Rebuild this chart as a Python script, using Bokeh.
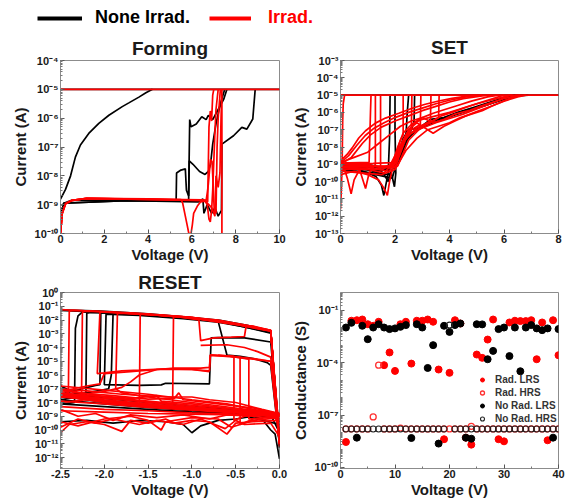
from bokeh.plotting import figure
from bokeh.layouts import column, row
from bokeh.models import (Range1d, FixedTicker, CustomJSTickFormatter,
                          NumeralTickFormatter, Legend, LegendItem)
from bokeh.embed import file_html
from bokeh.resources import INLINE

# ---------------- data: (voltage, log10 current) ----------------
forming_none = [
    [(0, -8.81), (0.23, -8.47), (0.46, -8.0), (0.68, -7.35), (0.91, -6.93), (1.29, -6.53),
     (1.75, -6.18), (2.21, -5.9), (2.82, -5.6), (3.12, -5.47), (3.58, -5.27), (3.9, -5.12), (4.2, -5.0)],
    [(0, -9.4), (0.15, -8.95), (0.5, -8.85), (3, -8.84), (5.28, -8.86), (5.3, -7.9), (5.5, -7.8),
     (5.7, -7.76), (5.75, -8.5), (5.85, -8.7), (5.9, -6.05), (5.96, -6.3), (6.2, -6.2), (6.45, -5.95),
     (6.65, -6.05), (6.75, -5.9), (6.95, -6.05), (7.2, -5.7), (7.45, -5.35), (7.6, -5.0)],
    [(0, -9.4), (0.15, -8.95), (3, -8.86), (5.85, -8.88), (5.88, -7.48), (6.05, -7.6), (6.35, -7.85),
     (6.6, -7.95), (6.75, -7.85), (6.85, -7.6), (6.95, -6.9), (7.1, -6.2), (7.3, -5.5), (7.5, -5.0)],
    [(0, -9.4), (0.15, -8.95), (3, -8.86), (6.3, -8.9), (6.5, -8.8), (6.55, -9.3), (6.7, -9.0),
     (6.9, -9.3), (7.05, -9.1), (7.2, -9.4), (7.35, -9.2), (7.37, -6.9), (7.9, -6.61), (8.28, -6.32),
     (8.51, -6.38), (8.78, -6.03), (8.89, -5.0)],
    [(0, -5), (10, -5)],
]
forming_irrad = [
    [(0, -10), (0.08, -9.3), (0.23, -8.97), (0.53, -8.85), (1.2, -8.78), (4, -8.8), (5.5, -8.82),
     (5.58, -8.95), (5.7, -9.4), (5.8, -9.77), (5.86, -10), (5.96, -10), (6.02, -9.7), (6.08, -9.3),
     (6.25, -9.05), (6.4, -8.9), (6.6, -8.88), (6.7, -9.0), (6.78, -9.5), (6.84, -9.6), (6.9, -9.2),
     (6.95, -8.5), (7.0, -7.5), (7.05, -6.5), (7.1, -5.7), (7.2, -5.0)],
    [(0, -10), (0.08, -9.3), (0.23, -8.97), (0.53, -8.85), (1.2, -8.78), (6.5, -8.83), (6.65, -8.85),
     (6.7, -8.6), (6.75, -8.3), (6.85, -7.43), (6.92, -7.5), (6.97, -8.3), (7.02, -9.2), (7.1, -9.3),
     (7.15, -7.0), (7.2, -6.0), (7.27, -5.3), (7.3, -5.0)],
    [(0, -10), (0.08, -9.3), (0.23, -8.97), (0.53, -8.85), (1.2, -8.78), (6.55, -8.85), (6.72, -8.9),
     (6.78, -6.3), (6.84, -5.75), (6.9, -6.1), (6.95, -5.2), (7.0, -5.0)],
    [(0, -10), (0.08, -9.3), (0.23, -8.97), (0.53, -8.85), (1.2, -8.78), (6.6, -8.86), (6.9, -9.1),
     (7.05, -9.4), (7.1, -8.0), (7.2, -8.4), (7.28, -7.9), (7.33, -6.0), (7.37, -5.0), (7.37, -10)],
    [(0, -5), (10, -5)],
]

set_none = [
    [(0, -9.0), (0.5, -9.2), (1.0, -9.5), (1.3, -9.7), (1.5, -10.2), (1.59, -10.8), (1.65, -10.3),
     (1.75, -9.5), (1.8, -7.5), (1.82, -5.0)],
    [(0, -9.0), (0.6, -9.1), (1.2, -9.4), (1.6, -9.6), (1.75, -10.0), (1.85, -9.4), (1.98, -10.3),
     (2.03, -9.5), (2.0, -7.0), (2.0, -5.0)],
    [(0, -8.95), (1.0, -9.0), (1.8, -9.3), (2.2, -8.5), (2.4, -7.4), (2.45, -6.0), (2.5, -5.0)],
    [(0, -9.1), (1.5, -9.2), (2.1, -9.0), (2.4, -7.8), (2.6, -7.0), (2.7, -6.5), (2.72, -5.0)],
    [(0, -9.3), (1.0, -9.5), (1.9, -9.8), (2.1, -8.7), (2.4, -7.6), (2.8, -7.0), (3.2, -6.6),
     (3.6, -6.4), (4.0, -6.2), (4.5, -5.95), (5.0, -5.75), (5.5, -5.5), (6.0, -5.25), (6.5, -5.05), (6.9, -5.0)],
    [(0, -9.2), (1.5, -9.4), (2.0, -9.0), (2.3, -7.8), (2.7, -7.1), (3.1, -6.8), (3.6, -6.5),
     (4.2, -6.15), (4.8, -5.85), (5.4, -5.55), (6.0, -5.2), (6.4, -5.0)],
    [(0, -9.3), (1.8, -9.6), (2.0, -9.0), (2.3, -7.5), (2.5, -7.0), (2.9, -6.9), (3.3, -6.4),
     (3.8, -6.3), (4.3, -6.0), (4.9, -5.7), (5.5, -5.4), (6.1, -5.1), (6.5, -5.0)],
    [(0, -5), (8, -5)],
]
set_irrad = [
    [(0, -8.8), (0.24, -8.43), (0.43, -8.05), (0.67, -7.48), (0.92, -7.06), (1.28, -6.62), (1.65, -6.33),
     (2.14, -6.05), (2.63, -5.76), (3.11, -5.53), (3.6, -5.34), (4.09, -5.19), (4.7, -5.04), (5.0, -5.0)],
    [(0, -8.9), (0.3, -8.5), (0.6, -7.9), (0.9, -7.35), (1.2, -6.95), (1.6, -6.6), (2.0, -6.3),
     (2.5, -6.0), (3.0, -5.75), (3.5, -5.5), (4.0, -5.3), (4.6, -5.1), (5.2, -5.0)],
    [(0, -9.0), (0.4, -8.6), (0.8, -7.8), (1.1, -7.3), (1.5, -6.85), (2.0, -6.5), (2.5, -6.2),
     (3.0, -5.9), (3.5, -5.65), (4.0, -5.4), (4.5, -5.2), (5.2, -5.05), (5.5, -5.0)],
    [(0, -8.9), (0.5, -8.6), (1.0, -8.3), (1.4, -7.8), (1.8, -7.3), (2.2, -6.8), (2.6, -6.5),
     (3.0, -6.3), (3.4, -6.05), (3.8, -5.85), (4.3, -5.6), (4.8, -5.35), (5.4, -5.1), (5.8, -5.0)],
    [(0, -9.4), (0.1, -9.0), (0.3, -8.92), (0.7, -8.9), (1.05, -8.9), (1.1, -6.0), (1.12, -5.0)],
    [(0, -9.5), (0.15, -9.3), (0.25, -9.8), (0.39, -10.7), (0.5, -9.9), (0.7, -9.3), (0.92, -10.4),
     (1.05, -9.5), (1.28, -9.0), (1.28, -5.0)],
    [(0, -9.1), (0.2, -8.9), (0.6, -9.0), (1.0, -9.1), (1.3, -9.3), (1.47, -9.2), (1.47, -5.0)],
    [(0, -11.6), (0.03, -10.5), (0.06, -9.0), (0.08, -6.5), (0.1, -5.5), (0.15, -5.0)],
    [(0, -9.6), (0.5, -9.4), (1.0, -9.6), (1.4, -9.9), (1.6, -10.4), (1.72, -10.8), (1.8, -10.0),
     (1.9, -9.3), (2.1, -8.4), (2.3, -7.7), (2.6, -7.2), (3.0, -6.9), (3.5, -6.6), (4.0, -6.35),
     (4.5, -6.1), (5.0, -5.8), (5.5, -5.5), (6.0, -5.2), (6.5, -5.0)],
    [(0, -9.2), (0.5, -9.1), (1.0, -9.0), (1.5, -9.2), (1.9, -9.0), (2.1, -8.0), (2.3, -7.2),
     (2.6, -6.7), (3.0, -6.4), (3.5, -6.2), (4.0, -6.0), (4.5, -5.75), (5.0, -5.5), (5.5, -5.3),
     (6.0, -5.1), (6.3, -5.0)],
    [(0, -9.3), (1.0, -9.3), (1.6, -9.5), (1.9, -9.0), (2.2, -7.9), (2.5, -7.3), (2.9, -6.9),
     (3.3, -6.6), (3.7, -6.2), (4.1, -6.0), (4.6, -5.7), (5.1, -5.45), (5.6, -5.2), (6.0, -5.0)],
    [(0, -9.0), (1.2, -9.1), (1.8, -9.2), (2.1, -8.5), (2.4, -7.4), (2.7, -6.6), (3.0, -6.3),
     (3.4, -6.6), (3.8, -6.4), (4.2, -6.1), (4.7, -5.9), (5.2, -5.6), (5.8, -5.3), (6.2, -5.0)],
    [(0, -9.2), (1.8, -9.1), (2.2, -7.9), (2.5, -7.0), (2.8, -6.6), (3.1, -6.9), (3.4, -7.2),
     (3.8, -6.8), (4.2, -6.5), (4.6, -6.2), (5.0, -5.95), (5.6, -5.6), (6.2, -5.2), (6.6, -5.0)],
    [(0, -9.3), (1.0, -9.2), (1.8, -9.4), (2.0, -8.6), (2.2, -7.6), (2.3, -7.3), (2.3, -5.0)],
    [(0, -9.0), (1.2, -8.95), (1.9, -8.9), (2.2, -8.0), (2.45, -7.2), (2.6, -6.9), (2.62, -5.0)],
    [(0, -9.2), (1.5, -9.3), (2.0, -9.0), (2.3, -7.8), (2.6, -7.0), (2.93, -6.7), (2.95, -5.0)],
    [(0, -9.0), (2.0, -9.2), (2.4, -7.5), (2.8, -6.9), (3.3, -6.5), (3.32, -5.0)],
    [(0, -9.1), (2.1, -9.1), (2.5, -7.6), (3.0, -6.8), (3.6, -6.3), (3.62, -5.0)],
    [(0, -9.4), (1.5, -9.6), (2.0, -9.3), (2.4, -8.2), (2.8, -7.5), (3.2, -7.0), (3.6, -6.8),
     (4.0, -6.6), (4.4, -6.3), (4.8, -6.1), (5.2, -5.9), (5.6, -5.6), (6.0, -5.35), (6.5, -5.1), (6.8, -5.0)],
    [(0, -5), (8, -5)],
]

reset_none = [
    [(0, -11.3), (-0.1, -2.8), (-0.37, -2.38), (-0.68, -2.03), (-1.06, -1.79), (-1.5, -1.56),
     (-2.04, -1.36), (-2.5, -1.27), (-2.5, -6.8), (-2.3, -7.4), (-2.0, -7.7), (-1.5, -8.0),
     (-1.0, -8.3), (-0.5, -8.55), (-0.1, -8.8), (0, -9.4)],
    [(0, -11.0), (-0.1, -2.9), (-0.37, -2.45), (-0.68, -2.1), (-1.06, -1.85), (-1.5, -1.62),
     (-2.0, -1.47), (-2.25, -1.42), (-2.3, -1.7), (-2.33, -2.6), (-2.34, -8.0), (-2.5, -8.1),
     (-2.0, -8.3), (-1.5, -8.5), (-1.0, -8.7), (-0.5, -8.85), (-0.1, -8.9), (0, -10.2)],
    [(0, -10.8), (-0.1, -2.85), (-0.4, -2.45), (-0.7, -2.08), (-1.1, -1.82), (-1.6, -1.6),
     (-2.15, -1.45), (-2.2, -1.5), (-2.21, -7.5), (-2.5, -7.8), (-2.0, -8.1), (-1.5, -8.35),
     (-1.0, -8.6), (-0.5, -8.8), (0, -9.6)],
    [(0, -11.2), (-0.1, -2.8), (-0.4, -2.4), (-0.7, -2.05), (-1.1, -1.8), (-1.6, -1.58),
     (-2.0, -1.45), (-2.04, -1.5), (-2.05, -6.7), (-2.1, -6.75), (-2.5, -7.4), (-2.0, -7.9),
     (-1.5, -8.2), (-1.0, -8.5), (-0.5, -8.7), (0, -9.2)],
    [(0, -10.5), (-0.1, -2.9), (-0.4, -2.5), (-0.7, -2.1), (-1.1, -1.85), (-1.6, -1.62),
     (-1.9, -1.55), (-1.92, -6.0), (-1.95, -7.0), (-2.2, -7.3), (-2.5, -7.5), (-2.0, -8.0),
     (-1.4, -8.3), (-0.8, -8.6), (0, -9.0)],
    [(0, -11.0), (-0.1, -2.95), (-0.4, -2.5), (-0.7, -2.15), (-1.1, -1.9), (-1.6, -1.66),
     (-1.98, -1.58), (-2.0, -6.7), (-1.6, -6.75), (-1.35, -6.72), (-1.3, -6.6), (-0.8, -6.65),
     (-0.78, -3.3), (-0.7, -3.28), (-0.4, -3.3), (-0.1, -3.6), (0, -11.0)],
    [(-2.5, -1.3), (-1.5, -1.6), (-1.0, -1.85), (-0.7, -2.1), (-0.6, -4.55), (-0.45, -4.65),
     (-0.3, -4.8), (-0.14, -5.1), (-0.1, -5.3), (0, -11.0)],
    [(-2.5, -9.4), (-2.2, -9.3), (-1.9, -9.5), (-1.6, -9.3), (-1.3, -9.4), (-1.1, -9.6), (-1.0, -10.2),
     (-0.9, -9.7), (-0.7, -9.3), (-0.5, -9.2), (-0.3, -9.0), (-0.2, -9.2), (-0.1, -10.0),
     (-0.05, -10.3), (0, -12.1)],
]
reset_irrad = [
    [(0, -11.0), (-0.1, -2.75), (-0.4, -2.35), (-0.7, -2.0), (-1.1, -1.75), (-1.6, -1.52),
     (-2.0, -1.38), (-2.35, -1.3), (-2.4, -1.35), (-2.41, -7.3), (-2.5, -7.0), (-2.0, -7.6),
     (-1.5, -8.0), (-1.0, -8.3), (-0.5, -8.6), (-0.1, -8.8), (0, -9.5)],
    [(0, -10.6), (-0.1, -2.82), (-0.5, -2.33), (-1.0, -1.86), (-1.5, -1.6), (-2.0, -1.42),
     (-2.22, -1.36), (-2.25, -1.45), (-2.26, -7.6), (-2.5, -7.3), (-2.0, -7.8), (-1.5, -8.1),
     (-1.0, -8.4), (-0.5, -8.7), (0, -8.9)],
    [(0, -10.8), (-0.1, -2.8), (-0.4, -2.4), (-0.7, -2.05), (-1.1, -1.78), (-1.6, -1.55),
     (-2.05, -1.42), (-2.08, -5.9), (-2.0, -5.85), (-1.8, -5.7), (-1.6, -5.65), (-1.3, -5.55),
     (-1.0, -5.6), (-0.8, -5.7), (-0.79, -4.55), (-0.5, -4.7), (-0.3, -4.85), (-0.1, -5.0), (0, -11.0)],
    [(0, -11.2), (-0.1, -2.8), (-0.5, -2.3), (-1.0, -1.85), (-1.5, -1.6), (-1.85, -1.5),
     (-1.87, -7.0), (-1.8, -7.3), (-1.5, -7.6), (-1.0, -8.0), (-0.5, -8.4), (0, -8.8)],
    [(-2.5, -7.2), (-2.2, -6.8), (-2.05, -6.65), (-2.0, -5.9), (-1.7, -5.75), (-1.4, -5.6),
     (-1.0, -5.6), (-0.8, -5.75)],
    [(-2.5, -7.6), (-2.0, -7.2), (-1.8, -6.9), (-1.7, -6.5), (-1.6, -6.0), (-1.4, -5.6), (-1.2, -5.5),
     (-0.9, -5.5), (-0.8, -5.45), (-0.79, -4.55), (-0.6, -4.6), (-0.3, -4.8), (-0.1, -5.0), (0, -10.5)],
    [(0, -11.0), (-0.1, -2.75), (-0.3, -2.45), (-0.38, -2.4), (-0.4, -3.2), (-0.55, -3.25),
     (-0.75, -3.3), (-0.9, -3.5), (-0.92, -2.0), (-1.2, -1.72), (-1.6, -1.55), (-2.0, -1.4), (-2.5, -1.25)],
    [(-0.9, -3.85), (-0.6, -3.8), (-0.4, -4.0), (-0.25, -4.3), (-0.1, -4.7), (0, -11.0)],
    [(0, -10.5), (-0.1, -2.75), (-0.5, -2.3), (-1.0, -1.8), (-1.55, -1.58), (-1.59, -1.6),
     (-1.6, -8.2), (-1.8, -8.0), (-2.2, -7.7), (-2.5, -7.5), (-2.0, -8.0), (-1.5, -8.3),
     (-1.0, -8.5), (-0.5, -8.7), (0, -9.0)],
    [(0, -11.0), (-0.1, -2.78), (-0.5, -2.3), (-1.0, -1.83), (-1.2, -1.72), (-1.21, -1.75),
     (-1.22, -8.1), (-1.6, -7.9), (-2.0, -7.7), (-2.5, -7.4), (-2.0, -7.9), (-1.5, -8.2),
     (-1.0, -8.45), (-0.5, -8.7), (0, -8.9)],
    [(-0.79, -4.55), (-0.6, -4.62), (-0.52, -4.65), (-0.52, -9.3), (-0.4, -9.0), (-0.2, -8.9), (0, -9.2)],
    [(-0.7, -4.55), (-0.45, -4.7), (-0.45, -9.6), (-0.3, -9.2), (0, -9.0)],
    [(-0.6, -4.6), (-0.35, -4.85), (-0.35, -9.2), (0, -9.0)],
    [(-2.5, -6.8), (-2.0, -7.1), (-1.5, -7.4), (-1.0, -7.8), (-0.6, -8.1), (-0.3, -8.5), (0, -8.8)],
    [(-2.5, -7.0), (-2.2, -7.15), (-1.8, -7.4), (-1.3, -7.6), (-1.0, -7.6), (-0.8, -7.8),
     (-0.5, -8.0), (-0.2, -8.5), (0, -8.8)],
    [(-2.5, -7.3), (-2.0, -7.6), (-1.5, -7.9), (-1.0, -8.2), (-0.5, -8.5), (0, -8.8)],
    [(-2.5, -7.4), (-2.1, -7.5), (-1.7, -7.7), (-1.4, -7.5), (-1.35, -7.9), (-1.0, -8.1),
     (-0.6, -8.4), (0, -8.85)],
    [(-2.5, -7.6), (-2.0, -7.9), (-1.5, -8.15), (-1.0, -8.4), (-0.5, -8.6), (0, -8.85)],
    [(-2.5, -7.9), (-2.0, -8.1), (-1.5, -8.35), (-1.0, -8.55), (-0.5, -8.75), (0, -8.9)],
    [(-2.5, -8.0), (-2.2, -7.8), (-1.9, -8.0), (-1.6, -8.2), (-1.2, -8.3), (-0.8, -8.5),
     (-0.4, -8.7), (0, -8.9)],
    [(-2.5, -8.3), (-2.0, -8.5), (-1.5, -8.6), (-1.0, -8.75), (-0.5, -8.85), (0, -8.9)],
    [(-2.5, -8.6), (-2.0, -8.7), (-1.5, -8.8), (-1.0, -8.85), (-0.5, -8.9), (0, -8.9)],
    [(-2.5, -7.1), (-2.3, -7.3), (-1.9, -7.5), (-1.5, -7.75), (-1.2, -7.7), (-1.15, -7.3),
     (-1.1, -7.8), (-0.7, -8.1), (-0.3, -8.4), (0, -8.85)],
    [(-2.5, -8.5), (-2.3, -9.0), (-2.1, -8.8), (-1.9, -9.3), (-1.7, -8.9), (-1.4, -9.1), (-1.1, -8.9),
     (-0.8, -9.2), (-0.6, -8.9), (-0.3, -9.0), (0, -8.95)],
    [(-2.5, -10.2), (-2.4, -9.6), (-2.2, -9.4), (-2.0, -9.6), (-1.8, -10.1), (-1.7, -9.3), (-1.5, -9.5),
     (-1.3, -9.2), (-1.2, -9.5), (-1.0, -9.3), (-0.8, -9.4), (-0.6, -10.3), (-0.5, -9.5), (-0.3, -9.4), (0, -9.3)],
    [(-2.5, -9.8), (-2.3, -9.2), (-2.1, -9.5), (-1.9, -9.2), (-1.6, -9.6), (-1.4, -9.3), (-1.1, -9.6),
     (-0.9, -9.2), (-0.62, -9.9), (-0.5, -9.3), (-0.4, -9.6), (-0.1, -9.5), (0, -10.5)],
    [(-2.5, -9.4), (-2.3, -9.7), (-2.0, -9.2), (-1.7, -9.0), (-1.5, -9.3), (-1.35, -10.0), (-1.3, -9.4),
     (-1.0, -9.1), (-0.7, -9.2), (-0.55, -9.8), (-0.3, -9.3), (0, -9.1)],
]

# conductance vs cycle (log10 S)
cycles = list(range(1, 41))
rad_lrs = [-8.55, -1.59, -1.56, -1.52, -1.79, -1.88, -1.65, -4.14, -3.41, -4.47,
           -1.79, -1.65, -4.05, -1.59, -1.59, -1.52, -1.65, -4.39, -8.39, -4.58,
           -1.56, -1.75, -8.30, -8.70, -3.53, -3.72, -2.67, -1.52, -8.39, -8.51,
           -1.69, -1.59, -1.61, -1.61, -1.56, -3.80, -1.69, -8.45, -1.56, -3.57]
rad_hrs = [-7.8, -7.8, -7.8, -7.8, -7.8, -7.11, -4.14, -7.8, -7.8, -7.8,
           -7.75, -7.8, -7.8, -7.8, -7.8, -7.8, -7.8, -7.8, -7.8, -7.8,
           -7.8, -7.8, -7.8, -7.65, -7.8, -7.8, -7.8, -7.8, -7.8, -7.8,
           -7.8, -7.8, -7.8, -7.8, -7.8, -7.8, -7.8, -7.8, -7.8, -7.8]
norad_lrs = [-1.98, -1.71, -8.30, -1.88, -2.65, -1.98, -1.79, -1.98, -2.07, -2.03,
             -1.94, -1.84, -8.32, -1.79, -1.98, -4.30, -2.99, -8.64, -1.88, -2.23,
             -1.84, -1.75, -8.30, -8.36, -1.79, -1.80, -3.80, -3.32, -2.07, -1.98,
             -3.62, -1.98, -4.49, -1.98, -1.84, -2.03, -2.13, -2.03, -8.30, -2.07]
norad_hrs = [-7.8] * 19 + [-1.84] + [-7.8] * 20

forming_xticks = [0, 2, 4, 6, 8, 10]
set_xticks = [0, 2, 4, 6, 8]
reset_xticks = [-2.5, -2.0, -1.5, -1.0, -0.5, 0.0]
cond_xticks = [0, 10, 20, 30, 40]

# ---------------- styling ----------------
AX_FONT = "Liberation Sans"
GRAY = "#8c8c8c"
SUP_JS = """
const s = {"-":"\\u207B","0":"\\u2070","1":"\\u00B9","2":"\\u00B2","3":"\\u00B3","4":"\\u2074",
           "5":"\\u2075","6":"\\u2076","7":"\\u2077","8":"\\u2078","9":"\\u2079"};
const e = Math.round(Math.log10(tick));
return "10" + String(e).split("").map(c => s[c]).join("");
"""


def to_xy(curves):
    xs = [[pt[0] for pt in c] for c in curves]
    ys = [[10.0 ** pt[1] for pt in c] for c in curves]
    return xs, ys


def panel(width, height, xr, ylog, xticks, xminor, yticks, ylabel, borders,
          title=None, title_gap=4, xfmt=None):
    bl, br, bt, bb = borders
    p = figure(width=width, height=height, x_range=Range1d(*xr),
               y_range=Range1d(10.0 ** ylog[0], 10.0 ** ylog[1]), y_axis_type="log",
               output_backend="svg", toolbar_location=None,
               min_border_left=bl, min_border_right=br, min_border_top=bt, min_border_bottom=bb)
    p.grid.visible = False
    p.outline_line_color = GRAY
    p.background_fill_color = "white"
    p.border_fill_color = "white"
    if title:
        p.title.text = title
        p.title.align = "center"
        p.title.text_font = AX_FONT
        p.title.text_font_size = "19px"
        p.title.text_font_style = "bold"
        p.title.text_color = "#1a1a1a"
        p.title.standoff = title_gap
    minor_y = [m * 10.0 ** k for k in range(int(ylog[0]) - 1, int(ylog[1]) + 1) for m in range(1, 10)]
    p.yaxis.ticker = FixedTicker(ticks=[10.0 ** k for k in yticks], minor_ticks=minor_y)
    p.yaxis.formatter = CustomJSTickFormatter(code=SUP_JS)
    p.xaxis.ticker = FixedTicker(ticks=xticks, minor_ticks=xminor)
    if xfmt:
        p.xaxis.formatter = NumeralTickFormatter(format=xfmt)
    for ax in (p.xaxis, p.yaxis):
        ax.axis_line_color = GRAY
        ax.major_tick_line_color = "#555555"
        ax.minor_tick_line_color = "#777777"
        ax.major_tick_in = 4
        ax.major_tick_out = 0
        ax.minor_tick_in = 2
        ax.minor_tick_out = 0
        ax.major_label_text_font = AX_FONT
        ax.major_label_text_font_style = "bold"
        ax.major_label_text_font_size = "11px"
        ax.major_label_text_color = "#1a1a1a"
        ax.axis_label_text_font = AX_FONT
        ax.axis_label_text_font_style = "bold"
        ax.axis_label_text_font_size = "15px"
        ax.axis_label_text_color = "#1a1a1a"
    p.xaxis.major_label_standoff = 1
    p.xaxis.axis_label_standoff = 0
    p.yaxis.major_label_standoff = 2
    p.yaxis.axis_label_standoff = 3
    p.xaxis.axis_label = "Voltage (V)"
    p.yaxis.axis_label = ylabel
    return p


def draw(p, black, red):
    xs, ys = to_xy(black)
    p.multi_line(xs=xs, ys=ys, line_color="black", line_width=1.7)
    xs, ys = to_xy(red)
    p.multi_line(xs=xs, ys=ys, line_color="#ff0000", line_width=1.7)


# ---------------- header legend ----------------
hdr = figure(width=568, height=32, x_range=Range1d(0, 1), y_range=Range1d(0, 1),
             output_backend="svg", toolbar_location=None, min_border=0,
             x_axis_location=None, y_axis_location=None)
hdr.grid.visible = False
hdr.outline_line_color = None
hdr.border_fill_color = "white"
r_none = hdr.line(x=[5, 6], y=[5, 6], line_color="black", line_width=4)
r_irr = hdr.line(x=[5, 6], y=[5, 6], line_color="#ff0000", line_width=4)
for rend, lab, col, x0, gw, so in ((r_none, "None Irrad.", "black", 37, 45, 13),
                                  (r_irr, "Irrad.", "#ff0000", 209, 42, 17)):
    lg = Legend(items=[LegendItem(label=lab, renderers=[rend])], location=(x0, 4),
                label_text_font=AX_FONT, label_text_font_style="bold",
                label_text_font_size="18px", label_text_color=col,
                glyph_width=gw, glyph_height=18, label_height=18, label_standoff=so,
                padding=0, margin=0, spacing=0, background_fill_alpha=0, border_line_alpha=0)
    hdr.add_layout(lg)

# ---------------- panels ----------------
f1 = panel(288, 233, (0, 10), (-10, -4), forming_xticks, [1, 3, 5, 7, 9],
           list(range(-10, -3)), "Current (A)", (60, 9, 26, 32), title="Forming", title_gap=4)
draw(f1, forming_none, forming_irrad)

f2 = panel(280, 233, (0, 8), (-13, -3), set_xticks, [1, 3, 5, 7],
           list(range(-13, -2)), "Current (A)", (52, 10, 26, 32), title="SET", title_gap=5)
draw(f2, set_none, set_irrad)

f3 = panel(288, 237, (-2.5, 0), (-12.8, 0), reset_xticks, [-2.25, -1.75, -1.25, -0.75, -0.25],
           list(range(-12, 1)), "Current (A)", (60, 9, 27, 32), title="RESET", title_gap=0, xfmt="0.0")
draw(f3, reset_none, reset_irrad)

f4 = panel(280, 237, (0, 40), (-10.07, 0.03), cond_xticks, [5, 15, 25, 35],
           [-10, -7, -4, -1], "Conductance (S)", (52, 10, 27, 34))
cy_lrs_r = [10.0 ** v for v in rad_lrs]
cy_hrs_r = [10.0 ** v for v in rad_hrs]
cy_lrs_n = [10.0 ** v for v in norad_lrs]
cy_hrs_n = [10.0 ** v for v in norad_hrs]
s1 = f4.scatter(cycles, cy_lrs_r, marker="circle", size=7, fill_color="#ff0000", line_color="#ff0000")
s2 = f4.scatter(cycles, cy_hrs_r, marker="circle", size=6, fill_color=None, line_color="#ff3030", line_width=1.3)
s3 = f4.scatter(cycles, cy_lrs_n, marker="circle", size=7, fill_color="black", line_color="black")
s4 = f4.scatter(cycles, cy_hrs_n, marker="circle", size=6, fill_color=None, line_color="#222222", line_width=1.1)
leg4 = Legend(items=[LegendItem(label="Rad. LRS", renderers=[s1]),
                     LegendItem(label="Rad. HRS", renderers=[s2]),
                     LegendItem(label="No Rad. LRS", renderers=[s3]),
                     LegendItem(label="No Rad. HRS", renderers=[s4])],
              location=(137, 43), label_text_font=AX_FONT, label_text_font_style="bold",
              label_text_font_size="10px", label_text_color="#333333",
              glyph_width=10, glyph_height=13, label_height=13, label_standoff=8,
              padding=0, margin=0, spacing=0, background_fill_alpha=0, border_line_alpha=0)
f4.add_layout(leg4)

layout = column(hdr, row(f1, f2), row(f3, f4))
open("out.html", "w", encoding="utf-8").write(file_html(layout, INLINE))
